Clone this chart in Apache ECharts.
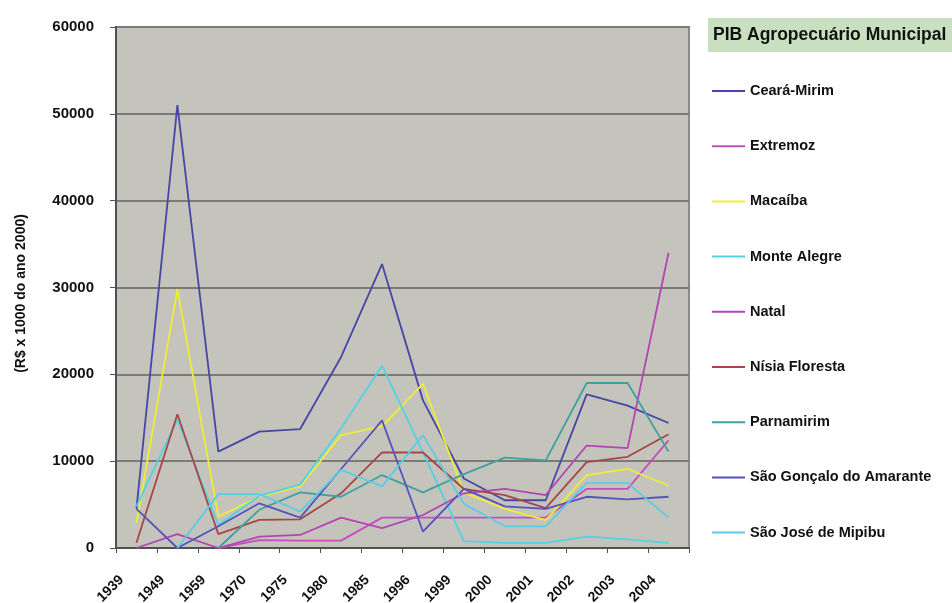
<!DOCTYPE html>
<html>
<head>
<meta charset="utf-8">
<script src="https://cdn.jsdelivr.net/npm/echarts@6/dist/echarts.min.js"></script>
<style>
  html, body { margin: 0; padding: 0; background: #fff; }
  #chart { width: 952px; height: 603px; }
</style>
</head>
<body>
<div id="chart"></div>
<script>
// anos (eixo x)
var anos = ['1939', '1949', '1959', '1970', '1975', '1980', '1985', '1996', '1999', '2000', '2001', '2002', '2003', '2004'];

// PIB agropecuário (R$ x 1000 do ano 2000)
var cearaMirim = [4500, 51000, 11100, 13400, 13700, 22000, 32700, 17000, 8000, 5500, 5500, 17700, 16400, 14400];
var extremoz = [null, null, 0, 900, 850, 850, 3500, 3500, 3500, 3500, 3500, 6800, 6800, 12400];
var macaiba = [2900, 29800, 3600, 5900, 7100, 13000, 14000, 18900, 6400, 4500, 3200, 8400, 9100, 7200];
var monteAlegre = [4800, 14800, 2650, 6000, 7300, 13800, 21000, 11000, 800, 600, 600, 1300, 1000, 600];
var natal = [0, 1600, 0, 1300, 1500, 3500, 2300, 3800, 6300, 6800, 6100, 11800, 11500, 34000];
var nisiaFloresta = [600, 15400, 1600, 3250, 3300, 6300, 11000, 11000, 6800, 6100, 4600, 9900, 10500, 13100];
var parnamirim = [null, null, 0, 4400, 6400, 5900, 8400, 6400, 8500, 10400, 10100, 19000, 19000, 11100];
var saoGoncalo = [4500, 0, 2500, 5150, 3500, 9100, 14700, 1900, 6800, 4800, 4500, 5900, 5600, 5900];
var saoJose = [null, 0, 6200, 6200, 4200, 9000, 7100, 13000, 5100, 2500, 2500, 7500, 7500, 3500];

var nomes = ['Ceará-Mirim', 'Extremoz', 'Macaíba', 'Monte Alegre', 'Natal', 'Nísia Floresta', 'Parnamirim', 'São Gonçalo do Amarante', 'São José de Mipibu'];
var valores = [cearaMirim, extremoz, macaiba, monteAlegre, natal, nisiaFloresta, parnamirim, saoGoncalo, saoJose];
var cores = ['#4646a6', '#c84cbc', '#eeee38', '#52d2e2', '#b444b4', '#a84646', '#40a0a0', '#5454bc', '#5ccbe6'];

var fonte = '"Liberation Sans", Arial, sans-serif';

var chart = echarts.init(document.getElementById('chart'));

var series = nomes.map(function(n, i) {
  return {
    name: n,
    type: 'line',
    data: valores[i],
    symbol: 'none',
    connectNulls: false,
    lineStyle: { color: cores[i], width: 1.8 },
    itemStyle: { color: cores[i] },
    emphasis: { disabled: true }
  };
});

chart.setOption({
  animation: false,
  backgroundColor: '#ffffff',
  title: {
    text: 'PIB Agropecuário Municipal',
    left: 708,
    top: 18,
    padding: [8, 40, 8, 5],
    backgroundColor: '#c8e0c0',
    textStyle: { fontFamily: fonte, fontSize: 17.5, fontWeight: 'bold', color: '#111' }
  },
  legend: {
    orient: 'vertical',
    left: 707,
    top: 77,
    itemWidth: 33,
    itemHeight: 2,
    itemGap: 37.2,
    icon: 'rect',
    data: nomes,
    textStyle: { fontFamily: fonte, fontSize: 14.5, fontWeight: 'bold', color: '#111', lineHeight: 18 }
  },
  grid: {
    left: 116,
    right: 263,
    top: 27,
    bottom: 55,
    outerBoundsMode: 'none',
    containLabel: false,
    show: true,
    backgroundColor: '#c4c4bc',
    borderColor: '#8a8a86',
    borderWidth: 2
  },
  xAxis: {
    type: 'category',
    data: anos,
    boundaryGap: true,
    axisLine: { lineStyle: { color: '#505050', width: 2 } },
    axisTick: { show: true, length: 5, lineStyle: { color: '#505050' } },
    axisLabel: {
      rotate: 45,
      interval: 0,
      margin: 15,
      padding: [0, 21, 0, 0],
      fontFamily: fonte,
      fontSize: 14,
      fontWeight: 'bold',
      color: '#111'
    },
    splitLine: { show: false }
  },
  yAxis: {
    type: 'value',
    min: 0,
    max: 60000,
    interval: 10000,
    name: '(R$ x 1000 do ano 2000)',
    nameLocation: 'middle',
    nameGap: 88,
    nameTextStyle: { fontFamily: fonte, fontSize: 14, fontWeight: 'bold', color: '#111', padding: [0, 12, 0, 0] },
    axisLine: { show: true, lineStyle: { color: '#505050', width: 2 } },
    axisTick: { show: true, length: 6, lineStyle: { color: '#505050' } },
    axisLabel: {
      margin: 22,
      fontFamily: fonte,
      fontSize: 15,
      fontWeight: 'bold',
      color: '#111',
      formatter: function(v) { return String(v); }
    },
    splitLine: { lineStyle: { color: '#7a7a76', width: 2 } }
  },
  series: series
});
</script>
</body>
</html>
